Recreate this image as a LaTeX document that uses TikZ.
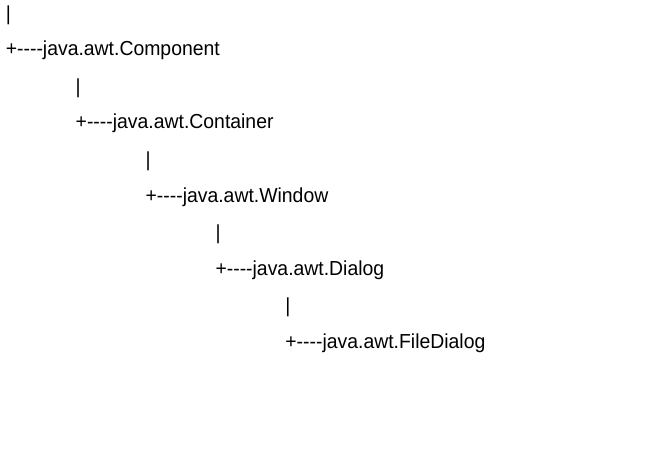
\documentclass[tikz,border=0pt]{standalone}
\usepackage{fontspec}
\usepackage{graphicx}
\setmainfont{Liberation Sans}[Ligatures=TeXOff]
\newcommand{\tallish}[1]{\scalebox{1}[1.045]{#1}}
\begin{document}
\begin{tikzpicture}[x=1pt,y=1pt,
  treetext/.style={anchor=base west,inner sep=0pt,outer sep=0pt,font=\fontsize{19.4}{23}\selectfont,text=black}]
\useasboundingbox (0,0) rectangle (663,-459);
\node[treetext] (b1) at (5.8,-20.3) {\tallish{|}};
\node[treetext] (l1) at (5.8,-55.4) {\tallish{+----java.awt.Component}};
\node[treetext] (b2) at (75.7,-93.4) {\tallish{|}};
\node[treetext] (l2) at (75.7,-128.7) {\tallish{+----java.awt.Container}};
\node[treetext] (b3) at (145.6,-166.5) {\tallish{|}};
\node[treetext] (l3) at (145.6,-202.0) {\tallish{+----java.awt.Window}};
\node[treetext] (b4) at (215.5,-239.6) {\tallish{|}};
\node[treetext] (l4) at (215.5,-275.3) {\tallish{+----java.awt.Dialog}};
\node[treetext] (b5) at (285.4,-312.7) {\tallish{|}};
\node[treetext] (l5) at (285.4,-348.6) {\tallish{+----java.awt.FileDialog}};
\end{tikzpicture}
\end{document}
